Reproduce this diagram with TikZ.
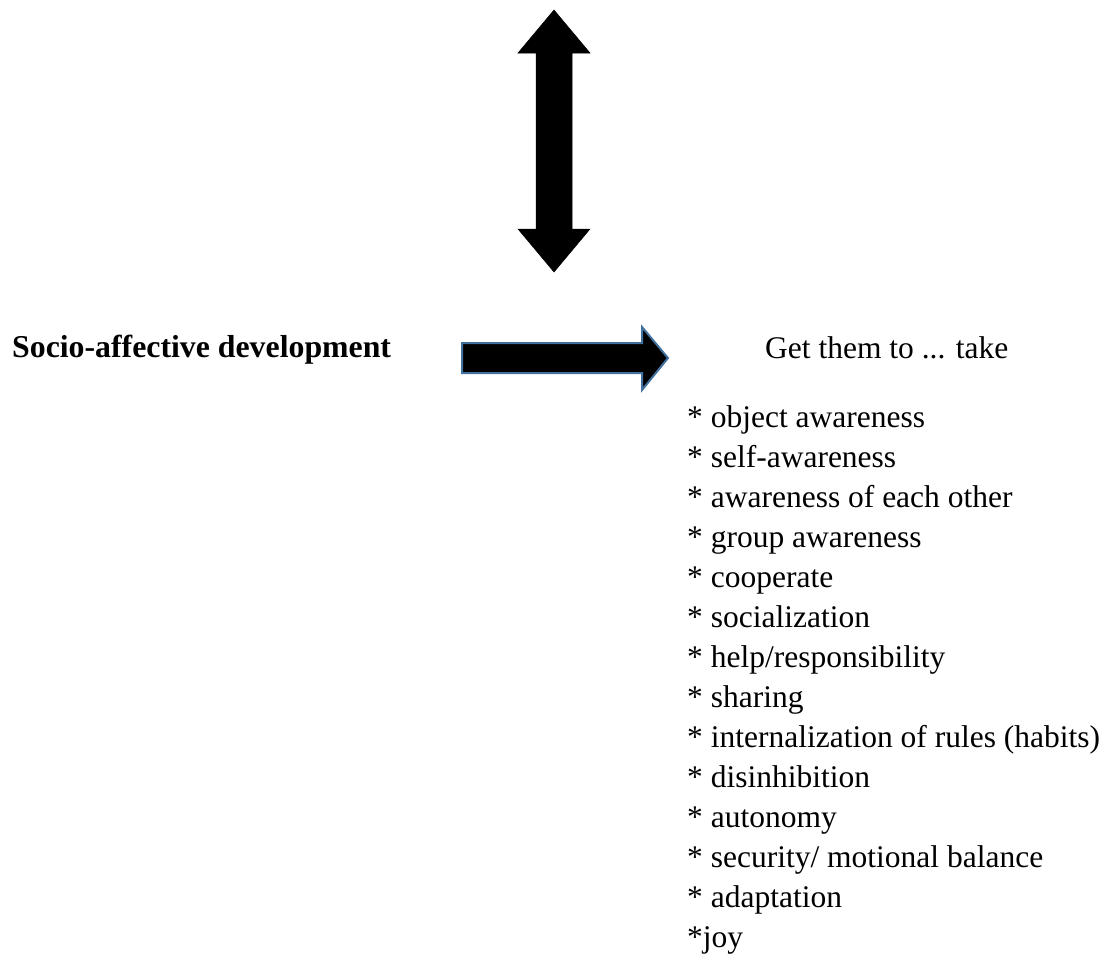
\documentclass[tikz,border=0pt]{standalone}
\usepackage{fontspec}
\setmainfont{Liberation Serif}
\definecolor{arrowedge}{RGB}{65,113,156}
\tikzset{
  label text/.style={inner sep=0pt, anchor=base west, font=\fontsize{31.5}{40}\selectfont},
  fat arrow/.style={fill=black, draw=black, line width=0.5pt}
}
\begin{document}
\begin{tikzpicture}[x=1pt, y=-1pt]
      \useasboundingbox (0,0) rectangle (1109,972);
      \fill[white] (0,0) rectangle (1109,972);
      \draw[fat arrow] (554,10)--(590,53)--(572,53)--(572,229)--(590,229)--(554,272)
        --(518,229)--(536,229)--(536,53)--(518,53)--cycle;
      \draw[fat arrow, draw=arrowedge, line width=2pt, line join=miter]
        (462,343)--(642,343)--(642,327)--(668,358)--(642,390)--(642,373)--(462,373)--cycle;
      \node[label text, font=\fontsize{31.8}{40}\selectfont\bfseries] (socio) at (12,357) {Socio-affective development};
      \node[label text] (gettake) at (765,358) {Get them to ... take};
      \foreach \t [count=\i] in {* object awareness, * self-awareness, * awareness of each other,
          * group awareness, * cooperate, * socialization, * help/responsibility, * sharing,
          * internalization of rules (habits), * disinhibition, * autonomy,
          * security/ motional balance, * adaptation, *joy}
        \node[label text] (item\i) at (687,{387+40*\i}) {\t};
\end{tikzpicture}
\end{document}
